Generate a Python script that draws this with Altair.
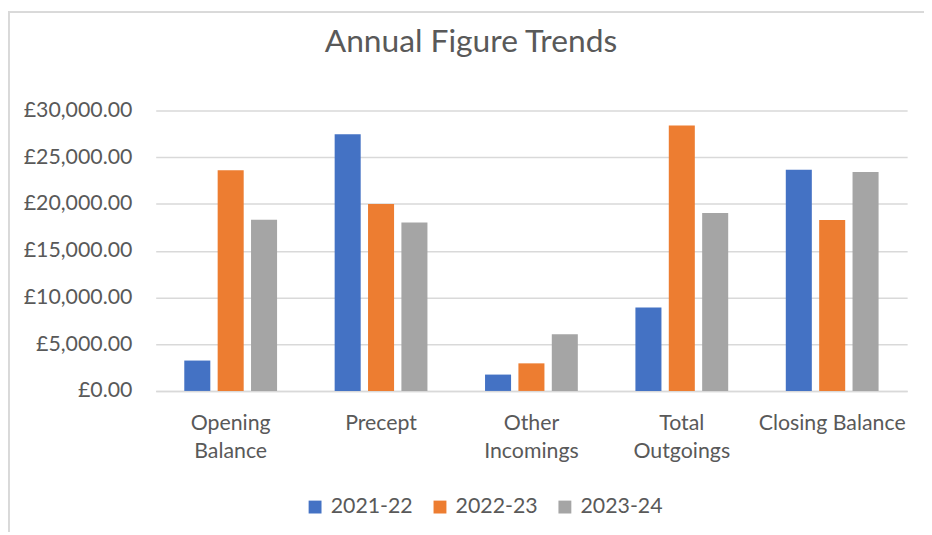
import altair as alt
import pandas as pd

categories = ["Opening Balance", "Precept", "Other Incomings", "Total Outgoings", "Closing Balance"]
series = ["2021-22", "2022-23", "2023-24"]
values_2021_22 = [3250, 27450, 1750, 8930, 23650]
values_2022_23 = [23600, 20000, 2950, 28380, 18280]
values_2023_24 = [18300, 18000, 6070, 19030, 23400]
colors = ["#4472C4", "#ED7D31", "#A5A5A5"]

rows = []
for s, vals in zip(series, [values_2021_22, values_2022_23, values_2023_24]):
    for c, v in zip(categories, vals):
        rows.append({"Category": c, "Year": s, "Value": v})
df = pd.DataFrame(rows)

FONT = "Lato"
TXT = "#595959"
W, H = 758, 283

bars = alt.Chart(df).mark_bar().encode(
    x=alt.X("Category:N", sort=categories, title=None,
            scale=alt.Scale(paddingInner=0.383, paddingOuter=0.19),
            axis=alt.Axis(labelAngle=0, labelFont=FONT, labelFontSize=21.5, labelColor=TXT,
                          labelPadding=22, labelLineHeight=28, labelBaseline="top",
                          domainColor="#D9D9D9", domainWidth=1.5, ticks=False, labelLimit=200,
                          labelExpr="datum.label == 'Closing Balance' ? datum.label : split(datum.label, ' ')")),
    xOffset=alt.XOffset("Year:N", sort=series, scale=alt.Scale(paddingInner=0.22, paddingOuter=0)),
    y=alt.Y("Value:Q", title=None,
            scale=alt.Scale(domain=[0, 30000], nice=False),
            axis=alt.Axis(values=[0, 5000, 10000, 15000, 20000, 25000, 30000],
                          labelExpr="'£' + format(datum.value, ',.2f')",
                          labelFont=FONT, labelFontSize=21.5, labelColor=TXT, labelPadding=24,
                          domain=False, ticks=False, gridColor="#D9D9D9", gridWidth=1.5)),
    color=alt.Color("Year:N", sort=series,
                    scale=alt.Scale(domain=series, range=colors),
                    legend=alt.Legend(title=None, orient="none", direction="horizontal",
                                      legendX=150, legendY=389, symbolType="square",
                                      symbolSize=169, symbolStrokeWidth=0,
                                      labelFont=FONT, labelFontSize=21.5, labelColor=TXT,
                                      labelOffset=5, columnPadding=16)),
)

border_top = alt.Chart(df).mark_rule(color="#D9D9D9", strokeWidth=1.5).encode(
    x=alt.value(-148.5), x2=alt.value(W + 20), y=alt.value(-99)
)
border_left = alt.Chart(df).mark_rule(color="#D9D9D9", strokeWidth=1.5).encode(
    x=alt.value(-148.5), y=alt.value(-99), y2=alt.value(H + 160)
)

chart = alt.layer(border_top, border_left, bars).properties(
    width=W, height=H,
    padding={"left": 149, "top": 101, "right": 17, "bottom": 140},
    autosize=alt.AutoSizeParams(type="none"),
    title=alt.TitleParams("Annual Figure Trends", font=FONT, fontSize=32, fontWeight="normal",
                          color=TXT, anchor="middle", frame="group", dx=-61, dy=98,
                          baseline="bottom", offset=18),
    background="white",
).configure_view(stroke=None)

chart.save("out.html", embed_options={"renderer": "svg", "actions": False})
